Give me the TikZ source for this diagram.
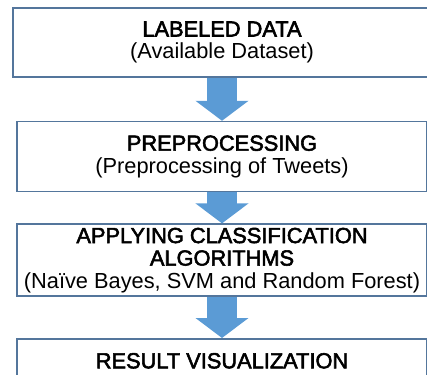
\documentclass[tikz,border=0pt]{standalone}
\usepackage{fontspec}
\setmainfont{Liberation Sans}
\newfontfamily\headfont{Liberation Sans}[FakeBold=2.5]
\usetikzlibrary{positioning}
\usetikzlibrary{arrows.meta}

\definecolor{boxedge}{RGB}{84,118,156}
\definecolor{flowblue}{RGB}{91,155,213}

\begin{document}
\begin{tikzpicture}[x=1pt,y=1pt,node distance=43pt,
        stage/.style={draw=boxedge,line width=1.6pt,fill=white,minimum width=410pt,
                      align=center,inner sep=0pt,font=\fontsize{21.8}{22.5}\selectfont},
        flow/.style={line width=30pt,draw=flowblue,-{Triangle[width=52pt,length=20pt]}}]
    \useasboundingbox (0,0) rectangle (427,-374);
        \node[stage,minimum width=418pt,minimum height=69pt] (data) at (222,-42.5)
            {{\headfont LABELED DATA}\\(Available Dataset)};
        \node[stage,minimum height=70pt] (prep) [below=43pt of data]
            {{\headfont PREPROCESSING}\\(Preprocessing of Tweets)};
        \node[stage,minimum height=72pt] (algo) [below=31pt of prep]
            {{\headfont APPLYING CLASSIFICATION}\\{\headfont ALGORITHMS}\\(Naïve Bayes, SVM and Random Forest)};
        \node[stage,minimum height=44pt] (result) [below=41pt of algo]
            {\headfont RESULT VISUALIZATION};
        \path   (data) edge [flow] (prep)
                (prep) edge [flow] (algo)
                (algo) edge [flow] (result);
\end{tikzpicture}
\end{document}
